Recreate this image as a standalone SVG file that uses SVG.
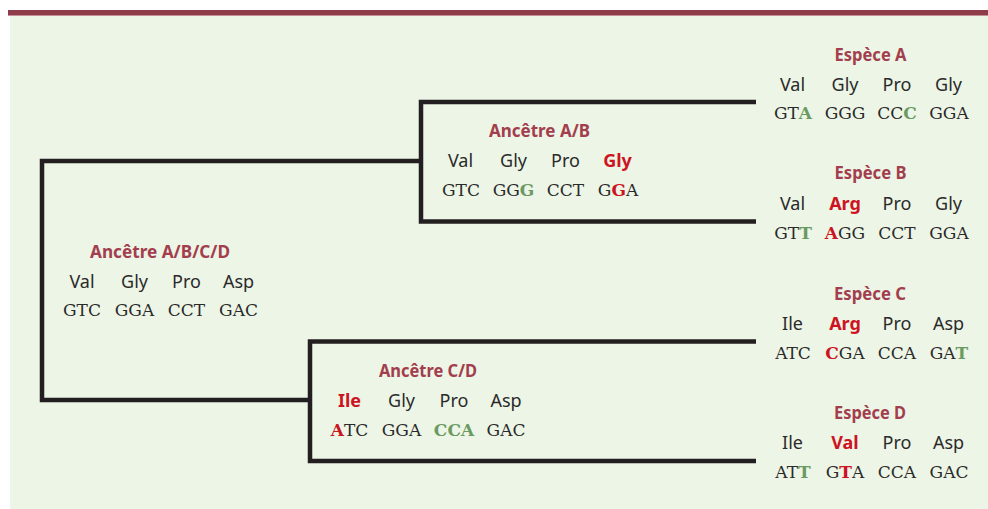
<svg xmlns="http://www.w3.org/2000/svg" width="988" height="509" viewBox="0 0 988 509">
<style>
.hd{font-family:"Noto Sans","Open Sans",sans-serif;font-weight:bold;font-size:18px;fill:#a23e4d;text-anchor:middle}
.aa{font-family:"Noto Sans","Open Sans",sans-serif;font-size:18px;fill:#2a2a2a;text-anchor:middle}
.aar{font-weight:bold;fill:#cc1422}
.cd{font-family:"DejaVu Serif","Liberation Serif",serif;font-size:17px;fill:#2a2a2a;text-anchor:middle}
.r{fill:#cc1422;font-weight:bold}
.g{fill:#6a9a62;font-weight:bold}
.ln{fill:none;stroke:#231f20;stroke-width:4.5;stroke-linejoin:miter;stroke-linecap:butt}
</style>
<rect x="0" y="0" width="988" height="509" fill="#ffffff"/>
<rect x="10" y="15.5" width="978" height="493.5" fill="#edf5e6"/>
<rect x="8" y="10" width="980" height="5" fill="#8e3c4a"/>
<rect x="8" y="15" width="980" height="1" fill="#c48f97"/>

<g id="connectors">
<path class="ln" d="M756,102 H421 V221.5 H756"/>
<path class="ln" d="M421,161 H42 V400 H310"/>
<path class="ln" d="M756,341.5 H310 V461 H756"/>
</g>

<g id="espece-a">
<text class="hd" x="870.5" y="61" textLength="72" lengthAdjust="spacingAndGlyphs">Espèce A</text>
<text class="aa" x="792.5" y="90.5">Val</text>
<text class="aa" x="845" y="90.5">Gly</text>
<text class="aa" x="897" y="90.5">Pro</text>
<text class="aa" x="948.5" y="90.5">Gly</text>
<text class="cd" x="793" y="119">GT<tspan class="g">A</tspan></text>
<text class="cd" x="845" y="119">GGG</text>
<text class="cd" x="897" y="119">CC<tspan class="g">C</tspan></text>
<text class="cd" x="949" y="119">GGA</text>
</g>

<g id="espece-b">
<text class="hd" x="870.5" y="179" textLength="72" lengthAdjust="spacingAndGlyphs">Espèce B</text>
<text class="aa" x="792.5" y="210">Val</text>
<text class="aa aar" x="845" y="210">Arg</text>
<text class="aa" x="897" y="210">Pro</text>
<text class="aa" x="948.5" y="210">Gly</text>
<text class="cd" x="793" y="239">GT<tspan class="g">T</tspan></text>
<text class="cd" x="845" y="239"><tspan class="r">A</tspan>GG</text>
<text class="cd" x="897" y="239">CCT</text>
<text class="cd" x="949" y="239">GGA</text>
</g>

<g id="espece-c">
<text class="hd" x="870" y="300" textLength="72" lengthAdjust="spacingAndGlyphs">Espèce C</text>
<text class="aa" x="792.5" y="329.5">Ile</text>
<text class="aa aar" x="845" y="329.5">Arg</text>
<text class="aa" x="897" y="329.5">Pro</text>
<text class="aa" x="948.5" y="329.5">Asp</text>
<text class="cd" x="793" y="359">ATC</text>
<text class="cd" x="845" y="359"><tspan class="r">C</tspan>GA</text>
<text class="cd" x="897" y="359">CCA</text>
<text class="cd" x="949" y="359">GA<tspan class="g">T</tspan></text>
</g>

<g id="espece-d">
<text class="hd" x="870" y="419" textLength="72" lengthAdjust="spacingAndGlyphs">Espèce D</text>
<text class="aa" x="792.5" y="449">Ile</text>
<text class="aa aar" x="845" y="449">Val</text>
<text class="aa" x="897" y="449">Pro</text>
<text class="aa" x="948.5" y="449">Asp</text>
<text class="cd" x="793" y="478">AT<tspan class="g">T</tspan></text>
<text class="cd" x="845" y="478">G<tspan class="r">T</tspan>A</text>
<text class="cd" x="897" y="478">CCA</text>
<text class="cd" x="949" y="478">GAC</text>
</g>

<g id="ancetre-ab">
<text class="hd" x="539.5" y="137" textLength="101" lengthAdjust="spacingAndGlyphs">Ancêtre A/B</text>
<text class="aa" x="460.5" y="167">Val</text>
<text class="aa" x="513.5" y="167">Gly</text>
<text class="aa" x="565.5" y="167">Pro</text>
<text class="aa aar" x="617.5" y="167">Gly</text>
<text class="cd" x="461" y="196">GTC</text>
<text class="cd" x="513.5" y="196">GG<tspan class="g">G</tspan></text>
<text class="cd" x="565.5" y="196">CCT</text>
<text class="cd" x="618" y="196">G<tspan class="r">G</tspan>A</text>
</g>

<g id="ancetre-abcd">
<text class="hd" x="160" y="257.5" textLength="140" lengthAdjust="spacingAndGlyphs">Ancêtre A/B/C/D</text>
<text class="aa" x="82" y="287.5">Val</text>
<text class="aa" x="134.5" y="287.5">Gly</text>
<text class="aa" x="186.5" y="287.5">Pro</text>
<text class="aa" x="238.5" y="287.5">Asp</text>
<text class="cd" x="82" y="316">GTC</text>
<text class="cd" x="134.5" y="316">GGA</text>
<text class="cd" x="186.5" y="316">CCT</text>
<text class="cd" x="238.5" y="316">GAC</text>
</g>

<g id="ancetre-cd">
<text class="hd" x="428" y="377" textLength="98" lengthAdjust="spacingAndGlyphs">Ancêtre C/D</text>
<text class="aa aar" x="349.5" y="407">Ile</text>
<text class="aa" x="401.5" y="407">Gly</text>
<text class="aa" x="454" y="407">Pro</text>
<text class="aa" x="506" y="407">Asp</text>
<text class="cd" x="349.5" y="436"><tspan class="r">A</tspan>TC</text>
<text class="cd" x="401.5" y="436">GGA</text>
<text class="cd" x="454" y="436"><tspan class="g">CCA</tspan></text>
<text class="cd" x="506" y="436">GAC</text>
</g>
</svg>
